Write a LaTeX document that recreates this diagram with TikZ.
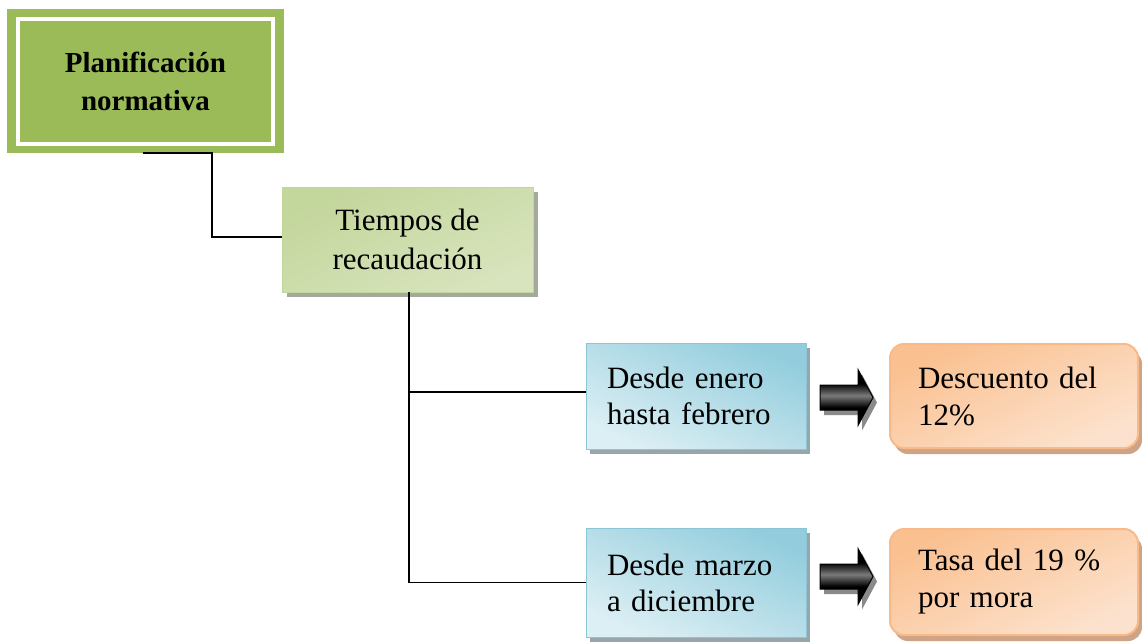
\documentclass[tikz,border=0pt]{standalone}
\usepackage{fontspec}
\setmainfont{Liberation Serif}
\usetikzlibrary{shadows}

\definecolor{olive}{HTML}{9BBB59}
\definecolor{oliveedge}{HTML}{C3D69B}
\definecolor{olivelight}{HTML}{F1F5E7}
\definecolor{oliveshadow}{HTML}{A4A99C}
\definecolor{bluedark}{HTML}{93CDDD}
\definecolor{bluelight}{HTML}{DCEFF4}
\definecolor{blueedge}{HTML}{8CC6D6}
\definecolor{blueshadow}{HTML}{97A6AA}
\definecolor{orangedark}{HTML}{FAC090}
\definecolor{orangelight}{HTML}{FDEBDD}
\definecolor{orangeedge}{HTML}{F8BA88}
\definecolor{orangeshadow}{HTML}{CFA385}
\definecolor{arrowshadow}{HTML}{8A8A8A}

\begin{document}
\begin{tikzpicture}[x=1pt,y=-1pt,
  every node/.style={inner sep=0pt, outer sep=0pt},
  headbox/.style={rectangle, fill=olive, minimum width=277pt, minimum height=144pt,
    align=center, font=\fontsize{29}{38}\selectfont\bfseries},
  midbox/.style={rectangle, draw=oliveedge, line width=0.8pt,
    top color=oliveedge, middle color=olivelight, bottom color=oliveedge!55!olivelight,
    shading angle=25,
    minimum width=251pt, minimum height=105pt, align=center,
    font=\fontsize{31}{39}\selectfont,
    drop shadow={shadow xshift=5pt, shadow yshift=-5pt, fill=oliveshadow, opacity=1}},
  periodbox/.style={rectangle, draw=blueedge, line width=0.8pt,
    top color=bluedark, bottom color=bluelight, shading angle=-25,
    minimum width=220pt, text width=178pt, inner xsep=21pt, align=left,
    font=\fontsize{31}{36}\selectfont,
    drop shadow={shadow xshift=4pt, shadow yshift=-5pt, fill=blueshadow, opacity=1}},
  resultbox/.style={rectangle, rounded corners=14pt, draw=orangeedge, line width=2pt,
    top color=orangedark, middle color=orangelight, bottom color=orangelight!80!orangedark,
    shading angle=25,
    minimum width=248pt, text width=192pt, inner xsep=28pt, align=left,
    font=\fontsize{31}{37}\selectfont,
    drop shadow={shadow xshift=4pt, shadow yshift=-6pt, fill=orangeshadow, opacity=1}},
  link/.style={draw=black, line width=1.4pt}
]
\useasboundingbox (0,0) rectangle (1142,642);

% boxes
\node[headbox] (plan) at (145.5,81) {Planificación\\normativa};
\draw[white, line width=4pt]
  ([shift={(11,10.5)}]plan.north west) rectangle ([shift={(-11,-9)}]plan.south east);

\node[midbox] (tiempos) at (407.5,239.5) {Tiempos de\\recaudación};

\node[periodbox, minimum height=106pt] (enero) at (696,396) {Desde enero\\hasta febrero};
\node[periodbox, minimum height=109pt] (marzo) at (696,582.5) {Desde marzo\\a diciembre};

\node[resultbox, minimum height=104pt] (descuento) at (1014,396) {Descuento del\\12\%};
\node[resultbox, minimum height=106pt] (tasa) at (1014,582) {Tasa del 19 \%\\por mora};

% block arrows between the period boxes and the results:
% shadow, black body with a banded grey gloss, outline
\foreach \ya in {397.5,576.5}{
  \fill[arrowshadow] (824,\ya+5) ++(0,-12.5) -- ++(38,0) -- ++(0,-15.5) -- ++(15,28)
    -- ++(-15,28) -- ++(0,-15.5) -- ++(-38,0) -- cycle;
  \begin{scope}
    \clip (820,\ya) ++(0,-12.5) -- ++(38,0) -- ++(0,-15.5) -- ++(15,28)
      -- ++(-15,28) -- ++(0,-15.5) -- ++(-38,0) -- cycle;
    \fill[black] (818,\ya-30) rectangle (876,\ya+30);
    \foreach \d in {-12,...,11}{
      \pgfmathtruncatemacro\g{round(48*(1-abs(\d+0.5)/12))}
      \fill[white!\g!black] (818,\ya-2+\d) rectangle (876,\ya-2+\d+1.1);
    }
  \end{scope}
  \draw[black, line width=1pt, line join=miter] (820,\ya) ++(0,-12.5) -- ++(38,0)
    -- ++(0,-15.5) -- ++(15,28) -- ++(-15,28) -- ++(0,-15.5) -- ++(-38,0) -- cycle;
}

% connectors
\coordinate (j1) at (212,153);
\draw[link] ([xshift=-3pt]plan.south) -- (j1) |- ([yshift=2.5pt]tiempos.west);
\draw[link] ([xshift=1.5pt]tiempos.south) |- (marzo.west);
\draw[link] ([xshift=1.5pt]tiempos.south |- 0,392) -- (enero.west |- 0,392);
\end{tikzpicture}
\end{document}
